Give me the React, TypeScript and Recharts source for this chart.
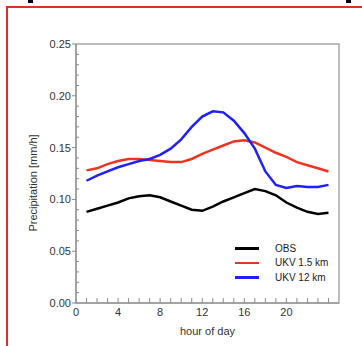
import {
    LineChart,
    Line,
    XAxis,
    YAxis,
    Label,
    ReferenceArea,
} from "recharts";

const hours = [1, 2, 3, 4, 5, 6, 7, 8, 9, 10, 11, 12, 13, 14, 15, 16, 17, 18, 19, 20, 21, 22, 23, 24];
const obs = [0.088, 0.091, 0.094, 0.097, 0.101, 0.103, 0.104, 0.102, 0.098, 0.094, 0.09, 0.089, 0.093, 0.098, 0.102, 0.106, 0.11, 0.108, 0.104, 0.097, 0.092, 0.088, 0.086, 0.087];
const ukv15 = [0.128, 0.13, 0.134, 0.137, 0.139, 0.139, 0.138, 0.137, 0.136, 0.136, 0.139, 0.144, 0.148, 0.152, 0.156, 0.157, 0.155, 0.15, 0.145, 0.141, 0.136, 0.133, 0.13, 0.127];
const ukv12 = [0.118, 0.123, 0.127, 0.131, 0.134, 0.137, 0.139, 0.143, 0.149, 0.158, 0.17, 0.18, 0.185, 0.184, 0.176, 0.164, 0.149, 0.127, 0.114, 0.111, 0.113, 0.112, 0.112, 0.114];

const xTicks = [0, 1, 2, 3, 4, 5, 6, 7, 8, 9, 10, 11, 12, 13, 14, 15, 16, 17, 18, 19, 20, 21, 22, 23, 24];
const xLabels = [0, 4, 8, 12, 16, 20];
const yTicks = [
    0, 0.01, 0.02, 0.03, 0.04, 0.05, 0.06, 0.07, 0.08, 0.09, 0.1, 0.11, 0.12,
    0.13, 0.14, 0.15, 0.16, 0.17, 0.18, 0.19, 0.2, 0.21, 0.22, 0.23, 0.24, 0.25,
];

const series = [
    { key: "obs", name: "OBS", color: "#000000" },
    { key: "ukv15", name: "UKV 1.5 km", color: "#ee3322" },
    { key: "ukv12", name: "UKV 12 km", color: "#1f1fff" },
];

const data = hours.map((h, i) => ({
    hour: h,
    obs: obs[i],
    ukv15: ukv15[i],
    ukv12: ukv12[i],
}));

const FONT = "'Liberation Sans', Arial, sans-serif";
const AXIS = "#8a8a8a";

const XTick = ({ x, y, payload }: any) => {
    const v = payload.value;
    return (
        <g>
            {v > 0 && <line x1={x} y1={y} x2={x} y2={y - 5} stroke={AXIS} strokeWidth={1} />}
            {xLabels.includes(v) && (
                <text x={x} y={y + 13} textAnchor="middle" fontSize={11} fill="#333" fontFamily={FONT}>
                    {v}
                </text>
            )}
        </g>
    );
};

const YTick = ({ x, y, payload }: any) => {
    const v = payload.value;
    const major = Math.abs(v * 20 - Math.round(v * 20)) < 1e-6;
    if (!major) {
        return <line x1={x} y1={y} x2={x + 3} y2={y} stroke={AXIS} strokeWidth={1} />;
    }
    return (
        <g>
            <line x1={x - 4} y1={y} x2={x} y2={y} stroke={AXIS} strokeWidth={1} />
            <text x={x - 5} y={y + 4} textAnchor="end" fontSize={11} fill="#333" fontFamily={FONT}>
                {v.toFixed(2)}
            </text>
        </g>
    );
};

const LegendBox = () => (
    <div
        style={{
            position: "absolute",
            left: 235,
            top: 241,
            fontFamily: FONT,
            fontSize: 10,
            color: "#222",
        }}
    >
        {series.map((s) => (
            <div key={s.key} style={{ display: "flex", alignItems: "center", height: 14.5 }}>
                <div style={{ width: 24, height: 2.5, background: s.color, marginRight: 16 }} />
                <span>{s.name}</span>
            </div>
        ))}
    </div>
);

const App = () => {
    return (
        <div style={{ position: "absolute", left: 0, top: 0, width: 362, height: 346, background: "#fff" }}>
            <div style={{ position: "absolute", left: 6, top: 6, width: 356, height: 2, background: "#e0301e" }} />
            <div style={{ position: "absolute", left: 6, top: 6, width: 2, height: 340, background: "#e0301e" }} />
            <div style={{ position: "absolute", left: 28, top: 0, width: 5, height: 3, background: "#000" }} />
            <div style={{ position: "absolute", left: 346, top: 0, width: 5, height: 3, background: "#000" }} />
            <LineChart
                width={362}
                height={346}
                data={data}
                margin={{ top: 44, right: 23, left: 6, bottom: 3 }}
            >
                <ReferenceArea x1={0} x2={25} y1={0} y2={0.25} fill="none" stroke="#a8a8a8" strokeWidth={1.5} />
                <XAxis
                    dataKey="hour"
                    type="number"
                    domain={[0, 25]}
                    ticks={xTicks}
                    interval={0}
                    tickLine={false}
                    tickSize={0}
                    tickMargin={0}
                    tick={<XTick />}
                    height={40}
                    stroke={AXIS}
                >
                    <Label
                        value="hour of day"
                        position="insideBottom"
                        offset={8}
                        style={{ fontSize: 11, fill: "#333", fontFamily: FONT }}
                    />
                </XAxis>
                <YAxis
                    type="number"
                    domain={[0, 0.25]}
                    ticks={yTicks}
                    interval={0}
                    tickLine={false}
                    tickSize={0}
                    tickMargin={0}
                    tick={<YTick />}
                    width={70}
                    stroke={AXIS}
                >
                    <Label
                        content={() => (
                            <text
                                transform="translate(37,183) rotate(-90)"
                                textAnchor="middle"
                                fontSize={11}
                                fill="#333"
                                fontFamily={FONT}
                            >
                                Precipitation [mm/h]
                            </text>
                        )}
                    />
                </YAxis>
                {series.map((s) => (
                    <Line
                        key={s.key}
                        type="linear"
                        dataKey={s.key}
                        name={s.name}
                        stroke={s.color}
                        strokeWidth={2.5}
                        dot={false}
                        isAnimationActive={false}
                    />
                ))}
            </LineChart>
            <LegendBox />
        </div>
    );
};

export default App;
